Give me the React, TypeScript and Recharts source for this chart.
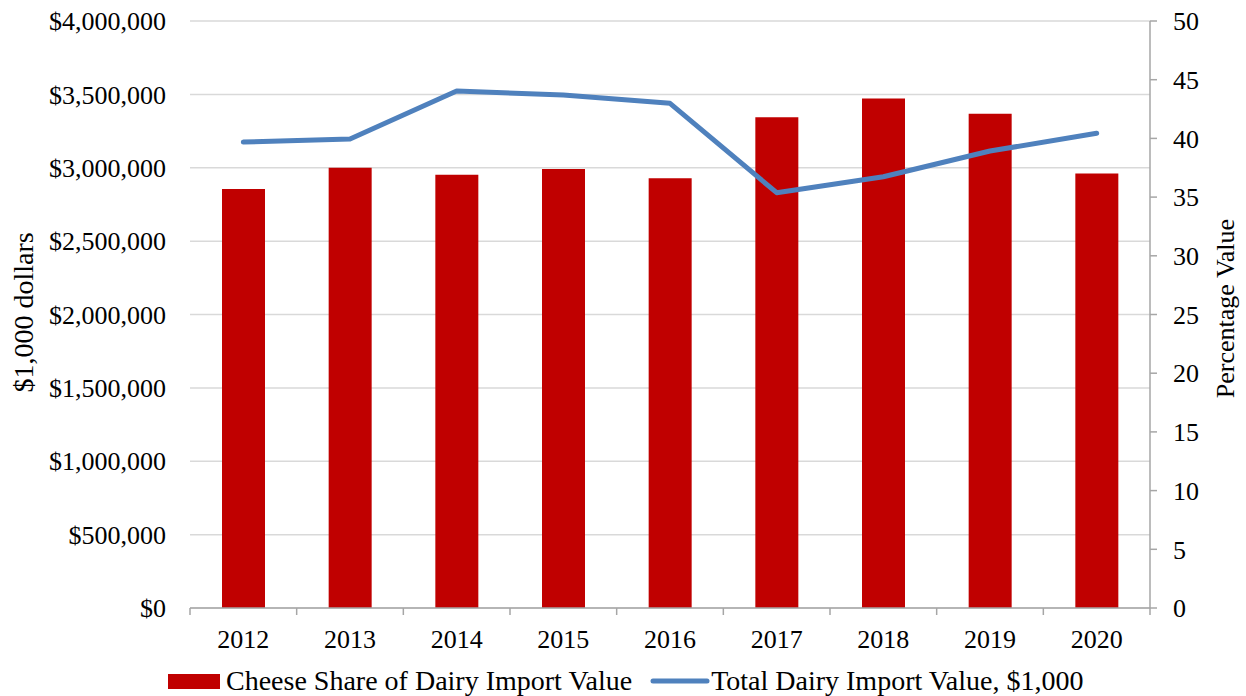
import { Bar, CartesianGrid, ComposedChart, Line, XAxis, YAxis } from "recharts";

const YEARS = ["2012", "2013", "2014", "2015", "2016", "2017", "2018", "2019", "2020"];
// cheese share of dairy import value, percent (right axis)
const CHEESE_SHARE = [35.7, 37.5, 36.9, 37.4, 36.6, 41.8, 43.4, 42.1, 37.0];
// total dairy import value, $1,000 (left axis)
const TOTAL_IMPORTS = [3175000, 3196000, 3523000, 3496000, 3439000, 2830000, 2939000, 3114000, 3235000];
const DOLLAR_TICKS = [0, 500000, 1000000, 1500000, 2000000, 2500000, 3000000, 3500000, 4000000];
const PCT_TICKS = [0, 5, 10, 15, 20, 25, 30, 35, 40, 45, 50];

const DATA = YEARS.map((year, i) => ({ year, share: CHEESE_SHARE[i], total: TOTAL_IMPORTS[i] }));

const FONT = '"Liberation Serif", "DejaVu Serif", serif';
const RED = "#C00000";
const BLUE = "#4F81BD";
const AXIS = "#A6A6A6";

const W = 1246;
const H = 660;
const LEFT_W = 190;
const RIGHT_W = 96;
const BAND = (W - LEFT_W - RIGHT_W) / YEARS.length;

// excel-style category axis: tick marks sit between categories
function YearTick(props: any) {
  const { x, y, payload, index } = props;
  const last = index === YEARS.length - 1;
  return (
    <g>
      <line x1={x - BAND / 2} y1={y} x2={x - BAND / 2} y2={y + 7} stroke={AXIS} strokeWidth={1.5} />
      {last && <line x1={x + BAND / 2} y1={y} x2={x + BAND / 2} y2={y + 7} stroke={AXIS} strokeWidth={1.5} />}
      <text x={x} y={y + 40} textAnchor="middle" style={{ fontFamily: FONT }} fontSize={26} fill="#000">
        {payload.value}
      </text>
    </g>
  );
}

function sideLabel(text: string, dx: number, dy: number, size: number) {
  return (props: any) => {
    const vb = props.viewBox;
    const cx = vb.x + dx;
    const cy = vb.y + vb.height / 2 + dy;
    return (
      <text
        x={cx}
        y={cy}
        transform={`rotate(-90 ${cx} ${cy})`}
        textAnchor="middle"
        dominantBaseline="central"
        style={{ fontFamily: FONT }}
        fontSize={size}
        fill="#000"
      >
        {text}
      </text>
    );
  };
}

const tickStyle = { fontFamily: FONT, fontSize: 26, fill: "#000" };

export default function App() {
  return (
    <div
      style={{
        position: "absolute",
        left: 0,
        top: 0,
        width: 1246,
        height: 696,
        background: "#fff",
        fontFamily: FONT,
      }}
    >
      <ComposedChart
        width={W}
        height={H}
        data={DATA}
        margin={{ top: 21, right: 0, bottom: 0, left: 0 }}
        barCategoryGap="30%"
        style={{ fontFamily: FONT }}
      >
        <CartesianGrid yAxisId="left" vertical={false} stroke="#D9D9D9" strokeWidth={1.5} />
        <XAxis
          dataKey="year"
          height={52}
          tick={<YearTick />}
          tickLine={false}
          tickSize={0}
          tickMargin={0}
          axisLine={{ stroke: AXIS, strokeWidth: 1.5 }}
          interval={0}
        />
        <YAxis
          yAxisId="left"
          width={LEFT_W}
          domain={[0, 4000000]}
          ticks={DOLLAR_TICKS}
          interval={0}
          axisLine={false}
          tickLine={false}
          tickSize={0}
          tickMargin={24}
          tickFormatter={(v: number) => "$" + v.toLocaleString("en-US")}
          tick={tickStyle}
          label={sideLabel("$1,000 dollars", 23, -2, 28)}
        />
        <YAxis
          yAxisId="right"
          orientation="right"
          width={RIGHT_W}
          domain={[0, 50]}
          ticks={PCT_TICKS}
          interval={0}
          axisLine={{ stroke: AXIS, strokeWidth: 1.5 }}
          tickLine={{ stroke: AXIS, strokeWidth: 1.5 }}
          tickSize={7}
          tickMargin={16}
          tick={tickStyle}
          label={sideLabel("Percentage Value", 75, -6, 26)}
        />
        <Bar yAxisId="right" dataKey="share" fill={RED} isAnimationActive={false} />
        <Line
          yAxisId="left"
          dataKey="total"
          stroke={BLUE}
          strokeWidth={5}
          strokeLinecap="round"
          strokeLinejoin="round"
          dot={false}
          isAnimationActive={false}
        />
      </ComposedChart>
      <div
        style={{
          position: "absolute",
          left: 168,
          top: 665,
          height: 32,
          display: "flex",
          alignItems: "center",
          fontFamily: FONT,
          fontSize: 28,
          color: "#000",
          whiteSpace: "nowrap",
        }}
      >
        <span style={{ display: "inline-block", width: 52, height: 15, background: RED, marginRight: 6 }} />
        <span>Cheese Share of Dairy Import Value</span>
        <svg width={60} height={10} style={{ marginLeft: 18, marginRight: 1 }}>
          <line x1={3} y1={5} x2={57} y2={5} stroke={BLUE} strokeWidth={5} strokeLinecap="round" />
        </svg>
        <span>Total Dairy Import Value, $1,000</span>
      </div>
    </div>
  );
}
